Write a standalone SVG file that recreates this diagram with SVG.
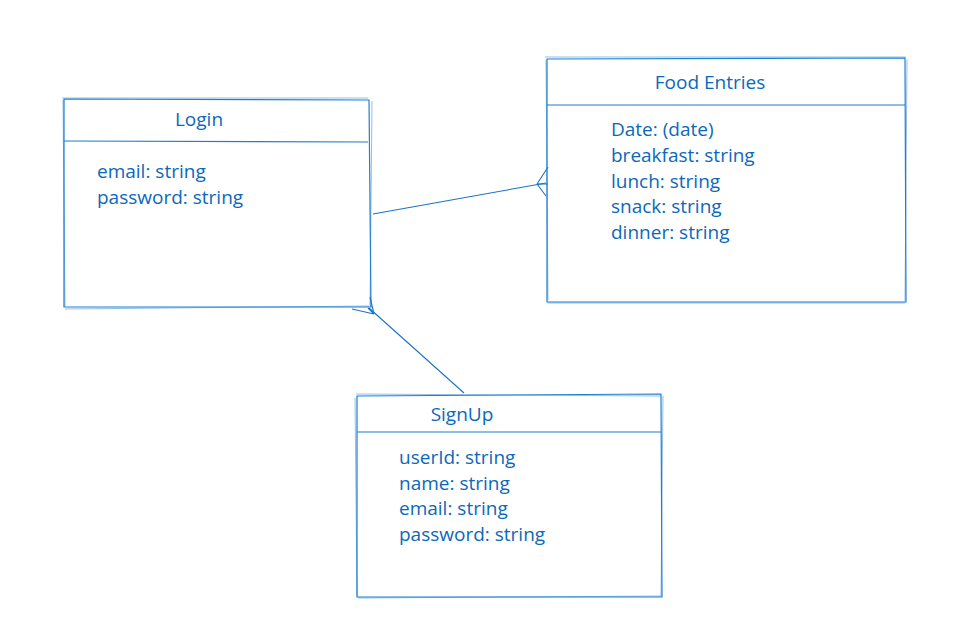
<svg xmlns="http://www.w3.org/2000/svg" width="969" height="641" viewBox="0 0 969 641">
<style>
.box{fill:none;stroke:#1f7fcf;stroke-width:1.2;stroke-linejoin:round}
.sk{fill:none;stroke:#1f7fcf;stroke-width:0.7;opacity:0.7}
.ln{fill:none;stroke:#1a73c4;stroke-width:1.1}
.t{font-family:"Open Sans","Liberation Sans",Arial,sans-serif;font-size:19px;fill:#0b68bb}
.h{text-anchor:middle}
</style>
<rect width="969" height="641" fill="#ffffff"/>
<g id="connectors">
<path class="ln" d="M373 214 L546 183"/>
<path class="ln" d="M537 184 L548 167 M537 184 L548 184 M537 184 L546 196"/>
<path class="ln" d="M464 393 L369 308"/>
<path class="ln" d="M374 314 L352 309 M374 314 L370 297 M374 314 L368 308"/>
</g>
<g id="login">
<path class="box" d="M64 99 L369 100 L371 307 L64 307 Z"/>
<path class="sk" d="M62 98 L368 98 M372 101 L370 306 M65 309 L369 306 M63 100 L65 306"/>
<path class="box" d="M64 141 L368 142"/>
<text class="t h" x="199" y="125.5">Login</text>
<text class="t" x="97" y="177.5">email: string</text>
<text class="t" x="97" y="203.5">password: string</text>
</g>
<g id="food-entries">
<path class="box" d="M547 59 L905 58 L906 302 L547 302 Z"/>
<path class="sk" d="M545 57 L906 57 M907 60 L905 301 M548 303 L905 303 M546 60 L548 300"/>
<path class="box" d="M547 105 L905 105"/>
<text class="t h" x="710" y="88.5">Food Entries</text>
<text class="t" x="611" y="135.5">Date: (date)</text>
<text class="t" x="611" y="161.5">breakfast: string</text>
<text class="t" x="611" y="187.5">lunch: string</text>
<text class="t" x="611" y="212.5">snack: string</text>
<text class="t" x="611" y="238.5">dinner: string</text>
</g>
<g id="signup">
<path class="box" d="M357 396 L661 394 L662 597 L357 597 Z"/>
<path class="sk" d="M356 394 L661 396 M663 396 L661 596 M358 598 L661 596 M355 398 L357 596"/>
<path class="box" d="M357 432 L661 432"/>
<text class="t h" x="462" y="420.5">SignUp</text>
<text class="t" x="399" y="463.5">userId: string</text>
<text class="t" x="399" y="489.5">name: string</text>
<text class="t" x="399" y="514.5">email: string</text>
<text class="t" x="399" y="540.5">password: string</text>
</g>
</svg>
